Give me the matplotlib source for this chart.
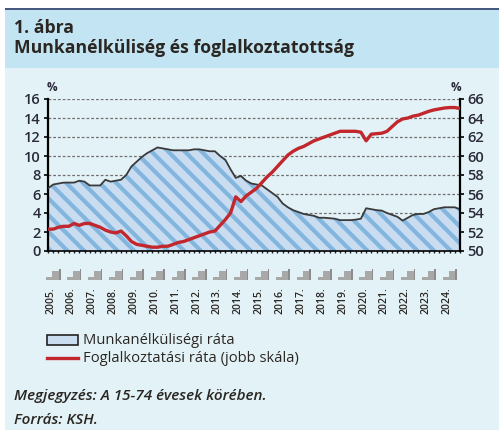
import matplotlib.pyplot as plt
import numpy as np
from matplotlib.patches import Rectangle
import matplotlib.transforms as mtransforms

plt.rcParams['font.family'] = ['Open Sans', 'DejaVu Sans']
plt.rcParams['hatch.linewidth'] = 3.0
plt.rcParams['hatch.color'] = '#82b6de'

years = list(range(2005, 2025))
year_labels = [f'{y}.' for y in years]

# quarterly, 2005 Q1 - 2024 Q4
unemployment = [
    6.6, 7.0, 7.1, 7.2, 7.2, 7.2, 7.4, 7.3, 6.9, 6.9,
    6.9, 7.5, 7.3, 7.4, 7.5, 8.0, 8.9, 9.4, 9.9, 10.3,
    10.6, 10.9, 10.8, 10.7, 10.6, 10.6, 10.6, 10.6, 10.7, 10.7,
    10.6, 10.5, 10.5, 10.0, 9.6, 8.6, 7.7, 7.9, 7.4, 7.1,
    7.0, 6.9, 6.5, 6.1, 5.7, 5.0, 4.6, 4.3, 4.1, 3.9,
    3.8, 3.7, 3.5, 3.5, 3.45, 3.4, 3.25, 3.25, 3.25, 3.3,
    3.4, 4.5, 4.4, 4.3, 4.25, 4.0, 3.8, 3.6, 3.2, 3.5,
    3.8, 3.9, 3.9, 4.1, 4.4, 4.5, 4.6, 4.6, 4.6, 4.4,
]
employment = [
    52.3, 52.3, 52.5, 52.6, 52.6, 52.9, 52.7, 52.9, 52.9, 52.7,
    52.5, 52.2, 52.0, 51.9, 52.1, 51.6, 51.0, 50.7, 50.6, 50.5,
    50.4, 50.4, 50.5, 50.5, 50.7, 50.9, 51.0, 51.2, 51.4, 51.6,
    51.8, 52.0, 52.1, 52.7, 53.3, 54.0, 55.7, 55.2, 55.8, 56.2,
    56.6, 57.2, 57.8, 58.3, 58.9, 59.5, 60.1, 60.5, 60.8, 61.0,
    61.3, 61.6, 61.8, 62.0, 62.2, 62.4, 62.6, 62.6, 62.6, 62.6,
    62.5, 61.6, 62.3, 62.35, 62.4, 62.6, 63.1, 63.6, 63.9, 64.0,
    64.2, 64.3, 64.5, 64.7, 64.85, 64.95, 65.05, 65.1, 65.1, 65.0,
]

x = np.arange(len(unemployment))
W, H = 499, 430
TXT = '#2a2622'

fig = plt.figure(figsize=(W / 100, H / 100), dpi=100)
fig.patch.set_facecolor('white')

def fx(px):
    return px / W

def fy(py):
    return 1 - py / H

def fig_rect(x0, y0, x1, y1, **kw):
    r = Rectangle((fx(x0), fy(y1)), fx(x1) - fx(x0), fy(y0) - fy(y1),
                  transform=fig.transFigure, **kw)
    fig.add_artist(r)
    return r

# background panels
fig_rect(5, 68, W, H, facecolor='#e3f2f7', edgecolor='none', zorder=-3)
fig_rect(5, 10, W, 68, facecolor='#c3e4f2', edgecolor='none', zorder=-3)
fig_rect(5, 8, W, 10, facecolor='#46597f', edgecolor='none', zorder=-3)

fig.text(fx(14), fy(28), '1. ábra', fontsize=12.7, fontweight='bold', color=TXT, va='center')
fig.text(fx(14), fy(48), 'Munkanélküliség és foglalkoztatottság', fontsize=12.7,
         fontweight='bold', color=TXT, va='center')

ax = fig.add_axes([fx(48), fy(251), fx(460) - fx(48), fy(99) - fy(251)])
ax.set_facecolor('none')
ax2 = ax.twinx()
ax.set_zorder(2)
ax2.set_zorder(3)

ax.set_xlim(0, len(x) - 1)
ax.set_ylim(0, 16)
ax2.set_ylim(50, 66)

for v in range(2, 17, 2):
    ax.axhline(v, color='#6f6f6f', lw=0.9, ls=(0, (2.2, 1.6)), zorder=0)

ax.fill_between(x, unemployment, 0, facecolor='#c9dcf0', edgecolor='none', hatch='\\\\', zorder=2)
ax.plot(x, unemployment, color='#3a3a3a', lw=1.3, zorder=3)
ax2.plot(x, employment, color='#c1272d', lw=2.4, zorder=4)

ax.set_yticks(range(0, 17, 2))
ax2.set_yticks(range(50, 67, 2))
ax.set_xticks(x, minor=True)
ax.set_xticks([4 * i + 0.5 for i in range(len(years))])
ax.set_xticklabels(year_labels, rotation=90, fontsize=7.5, color=TXT)
for lab in ax.get_xticklabels():
    lab.set_fontweight('semibold')
ax.tick_params(axis='x', which='major', length=0, pad=26)
ax.tick_params(axis='x', which='minor', length=3.5, width=1, direction='inout', color='#222')

for a in (ax, ax2):
    for s in a.spines.values():
        s.set_visible(False)
ax.spines['left'].set_visible(True)
ax.spines['bottom'].set_visible(True)
ax2.spines['right'].set_visible(True)
ax.spines['left'].set_linewidth(1.6)
ax2.spines['right'].set_linewidth(1.6)
ax.spines['bottom'].set_linewidth(1.2)

ax.tick_params(axis='y', length=3, width=1.2, labelsize=10.5, labelcolor='#2a2a3a', pad=2)
ax2.tick_params(axis='y', length=3, width=1.2, labelsize=10.5, labelcolor='#2a2a3a', pad=2)
for lab in ax.get_yticklabels() + ax2.get_yticklabels():
    lab.set_fontweight('semibold')

ax.text(0.01, 1.03, '%', transform=ax.transAxes, ha='center', va='bottom', fontsize=8.5,
        fontweight='bold', color='#2a2a3a')
ax.text(0.99, 1.03, '%', transform=ax.transAxes, ha='center', va='bottom', fontsize=8.5,
        fontweight='bold', color='#2a2a3a')

# quarter marks under the axis (low bar, block, spike)
trans = mtransforms.blended_transform_factory(ax.transData, fig.transFigure)
base = fy(280)
step = (fy(269) - base) / 11
for i in range(len(years)):
    x0 = 4 * i - 0.3
    ax.add_patch(Rectangle((x0, base), 1.1, 3 * step, transform=trans,
                           facecolor='#a8a8a8', edgecolor='none', clip_on=False))
    ax.add_patch(Rectangle((x0 + 1.1, base), 1.6, 9 * step, transform=trans,
                           facecolor='#a8a8a8', edgecolor='none', clip_on=False))
    ax.add_patch(Rectangle((x0 + 2.4, base), 0.3, 11 * step, transform=trans,
                           facecolor='#8c8c8c', edgecolor='none', clip_on=False))

# legend
fig_rect(47, 335, 78, 345, facecolor='#c9dcf0', edgecolor='none', hatch='\\\\\\', zorder=3)
fig_rect(47, 335, 78, 345, facecolor='none', edgecolor='#222', lw=1.2, zorder=4)
fig.add_artist(plt.Line2D([fx(47), fx(78)], [fy(358), fy(358)], transform=fig.transFigure,
                          color='#c1272d', lw=2.4))
fig.text(fx(83), fy(340.5), 'Munkanélküliségi ráta', fontsize=10.6, color=TXT, va='center')
fig.text(fx(83), fy(358), 'Foglalkoztatási ráta (jobb skála)', fontsize=10.6, color=TXT, va='center')

fig.text(fx(14), fy(396), 'Megjegyzés: A 15-74 évesek körében.', fontsize=11, style='italic',
         fontweight='semibold', color=TXT, va='center')
fig.text(fx(14), fy(420), 'Forrás: KSH.', fontsize=11, style='italic', fontweight='semibold',
         color=TXT, va='center')

fig.savefig('out.png', dpi=100, facecolor=fig.get_facecolor())
